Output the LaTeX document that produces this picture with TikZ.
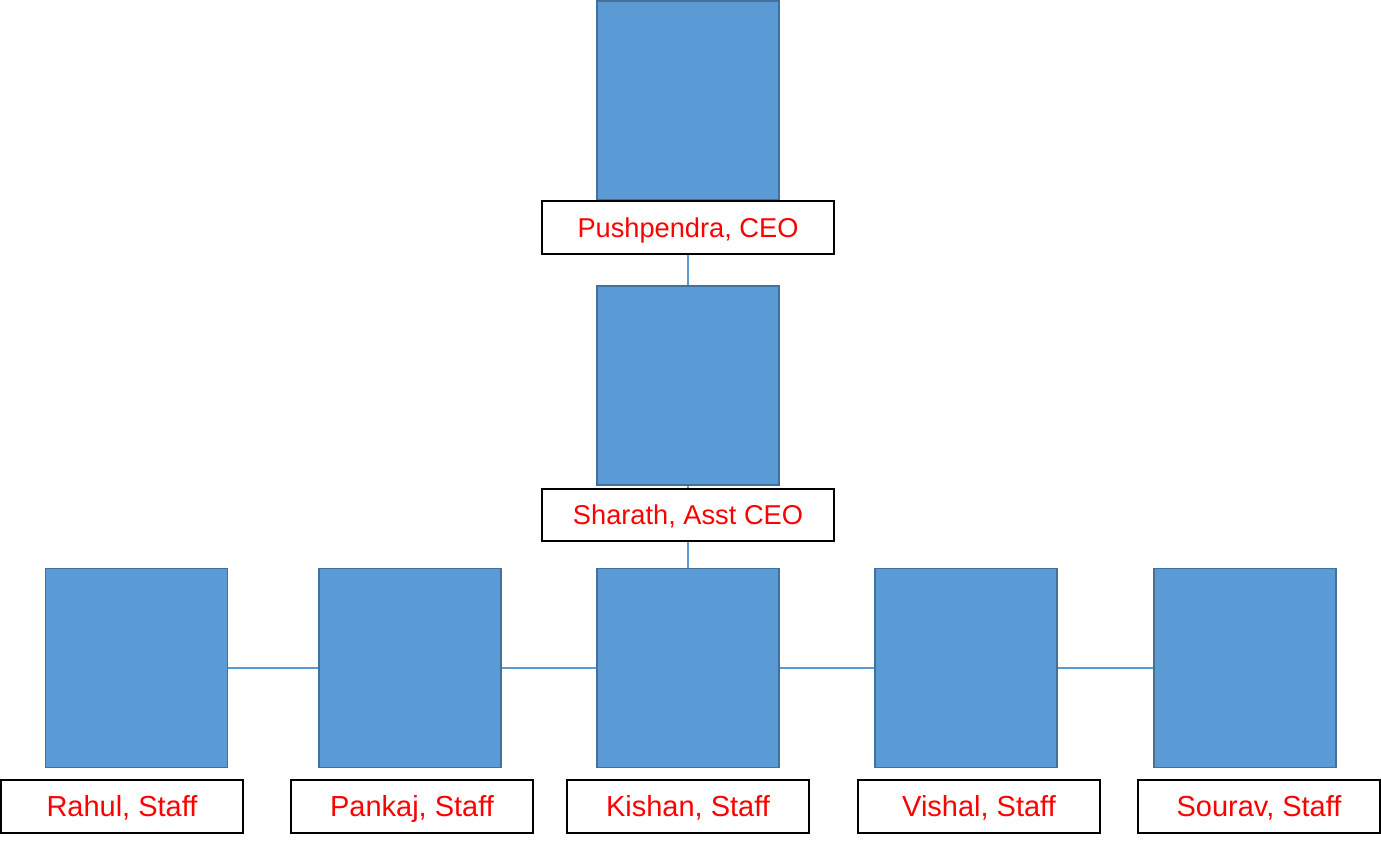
\documentclass[tikz,border=0pt]{standalone}
\usepackage{fontspec}
\setmainfont{Liberation Sans}
\definecolor{boxfill}{HTML}{5B9BD5}
\definecolor{boxline}{HTML}{41719C}
\begin{document}
\begin{tikzpicture}[x=0.02cm,y=-0.02cm,
  photo/.style={draw=boxline,fill=boxfill,line width=1.1pt,minimum width=3.64cm,minimum height=3.98cm,inner sep=0pt},
  namebox/.style={draw=black,fill=white,line width=1.1pt,minimum width=5.84cm,minimum height=1.05cm,inner sep=0pt,text height=11.1pt,text depth=0pt,text=red,font=\fontsize{15.5}{18}\selectfont},
  staffname/.style={namebox,minimum width=4.84cm,text height=11.8pt,font=\fontsize{16.5}{19}\selectfont},
  link/.style={draw=boxfill,line width=0.8pt}]
\useasboundingbox (0,0) rectangle (1381,842);
\node[photo] (ceo) at (688,100.5) {};
\node[namebox] (ceoname) at (688,227.5) {Pushpendra, CEO};
\node[photo] (asst) at (688,385.5) {};
\node[namebox] (asstname) at (688,515) {Sharath, Asst CEO};
\node[photo] (rahul) at (136.5,668) {};
\node[photo] (pankaj) at (410,668) {};
\node[photo] (kishan) at (688,668) {};
\node[photo] (vishal) at (966,668) {};
\node[photo] (sourav) at (1245,668) {};
\node[staffname] (rahulname) at (122,806.5) {Rahul, Staff};
\node[staffname] (pankajname) at (412,806.5) {Pankaj, Staff};
\node[staffname] (kishanname) at (688,806.5) {Kishan, Staff};
\node[staffname] (vishalname) at (979,806.5) {Vishal, Staff};
\node[staffname] (souravname) at (1259,806.5) {Sourav, Staff};
\draw[link] (ceoname.south)--(asst.north);
\draw[link] (asst.south)--(asstname.north);
\draw[link] (asstname.south)--(kishan.north);
\draw[link] (rahul.east)--(pankaj.west);
\draw[link] (pankaj.east)--(kishan.west);
\draw[link] (kishan.east)--(vishal.west);
\draw[link] (vishal.east)--(sourav.west);
\end{tikzpicture}
\end{document}
